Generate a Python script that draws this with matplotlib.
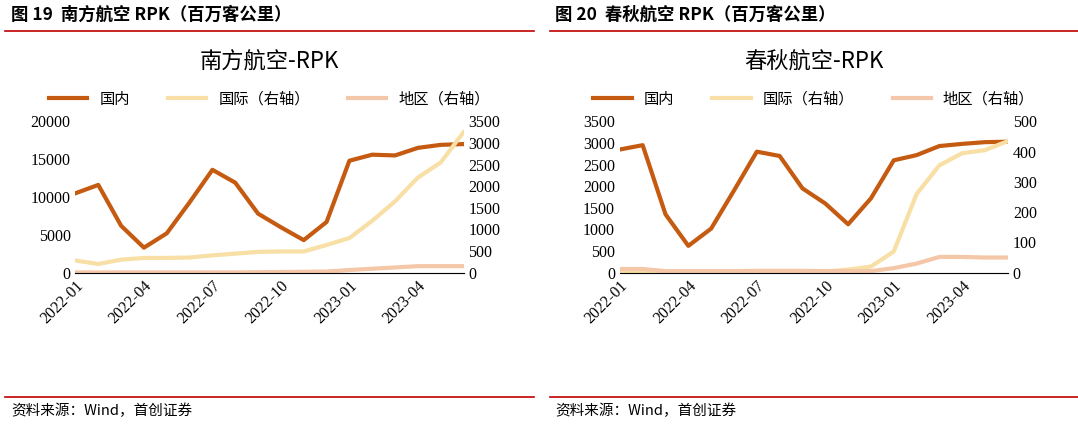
import matplotlib
matplotlib.use("Agg")
import matplotlib.pyplot as plt
from matplotlib.lines import Line2D

plt.rcParams["font.family"] = ["Noto Sans CJK SC", "DejaVu Sans"]

months = ["2022-01","2022-02","2022-03","2022-04","2022-05","2022-06","2022-07","2022-08","2022-09",
          "2022-10","2022-11","2022-12","2023-01","2023-02","2023-03","2023-04","2023-05","2023-06"]
tick_labels = ["2022-01","2022-04","2022-07","2022-10","2023-01","2023-04"]

csa_dom = [10500,11600,6200,3300,5200,9300,13600,11900,7800,6000,4300,6700,14800,15600,15500,16500,16900,17000]
csa_intl = [280,200,300,340,340,350,400,440,480,490,490,640,800,1200,1650,2200,2550,3250]
csa_reg = [5,5,5,5,5,5,5,5,10,15,20,25,60,90,120,150,150,150]

spr_dom = [2850,2950,1350,620,1020,1900,2800,2700,1950,1600,1120,1720,2600,2720,2930,2980,3020,3030]
spr_intl = [5,5,2,2,2,2,3,3,3,4,10,20,70,260,355,395,405,435]
spr_reg = [12,12,5,5,5,5,6,6,6,5,5,5,15,30,52,52,50,50]

C_DOM = "#C55A11"; C_INTL = "#F8DFA5"; C_REG = "#F4C7A9"; RED = "#C00000"

fig = plt.figure(figsize=(10.78, 4.26), dpi=100)

def panel(x0, head, title, dom, intl, reg, lmax, lstep, rmax, rstep):
    fig.text(x0 + 0.005, 0.965, head, fontsize=12.5, fontweight="bold", va="center")
    fig.add_artist(Line2D([x0, x0 + 0.49], [0.928, 0.928], color=RED, lw=1.2))
    fig.add_artist(Line2D([x0, x0 + 0.49], [0.068, 0.068], color=RED, lw=1.2))
    fig.text(x0 + 0.005, 0.035, "资料来源：Wind，首创证券", fontsize=10.5, style="italic", va="center")
    ax = fig.add_axes([x0 + 0.065, 0.36, 0.36, 0.355])
    x = list(range(len(months)))
    ax.plot(x, dom, color=C_DOM, lw=3, label="国内")
    ax2 = ax.twinx()
    ax2.plot(x, intl, color=C_INTL, lw=3, label="国际（右轴）")
    ax2.plot(x, reg, color=C_REG, lw=3, label="地区（右轴）")
    ax.set_ylim(0, lmax); ax.set_yticks(range(0, lmax + 1, lstep))
    ax2.set_ylim(0, rmax); ax2.set_yticks(range(0, rmax + 1, rstep))
    ax.set_xlim(0, len(months) - 1)
    ax.set_xticks([months.index(t) for t in tick_labels])
    ax.set_xticklabels(tick_labels, rotation=45, ha="right", rotation_mode="anchor",
                       fontfamily="Liberation Serif", fontsize=12)
    for a in (ax, ax2):
        for s in ("top",):
            a.spines[s].set_visible(False)
        a.tick_params(labelsize=11.5, length=0)
        for lab in a.get_yticklabels():
            lab.set_fontfamily("Liberation Serif")
    ax2.spines["left"].set_visible(False)
    ax.spines["right"].set_visible(False)
    ax2.spines["right"].set_visible(False)
    ax.spines["left"].set_visible(False)
    ax.spines["bottom"].set_color("#BFBFBF")
    ax.set_title(title, fontsize=16, pad=38)
    h1, l1 = ax.get_legend_handles_labels(); h2, l2 = ax2.get_legend_handles_labels()
    ax.legend(h1 + h2, l1 + l2, loc="lower center", bbox_to_anchor=(0.5, 1.0), ncol=3,
              frameon=False, fontsize=11, handlelength=2.5, columnspacing=2.5)

panel(0.005, "图 19  南方航空 RPK（百万客公里）", "南方航空-RPK", csa_dom, csa_intl, csa_reg, 20000, 5000, 3500, 500)
panel(0.51, "图 20  春秋航空 RPK（百万客公里）", "春秋航空-RPK", spr_dom, spr_intl, spr_reg, 3500, 500, 500, 100)

fig.savefig("out.png", dpi=100)
